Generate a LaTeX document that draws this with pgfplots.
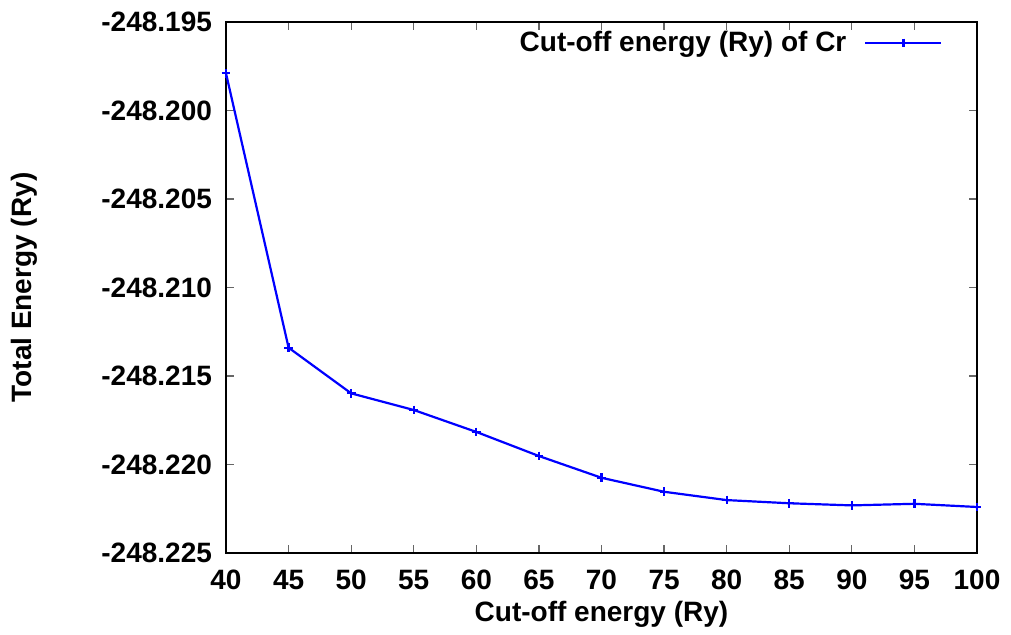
\documentclass[border=0pt]{standalone}
\usepackage{pgfplots}
\pgfplotsset{compat=1.18}
\usepackage{fontspec}
\setmainfont{Liberation Sans}
\newcommand{\lbl}{\fontsize{14}{16}\selectfont\bfseries}
\begin{document}
\begin{tikzpicture}
\useasboundingbox (0,0) rectangle (505.5pt,317pt);
\begin{axis}[
  at={(113pt,40.5pt)}, anchor=south west,
  scale only axis, width=375.5pt, height=265.5pt,
  xmin=40, xmax=100,
  ymin=-248.225, ymax=-248.195,
  y coord trafo/.code={\edef\pgfmathresult{\fpeval{(#1+248.225)*1000}}},
  y coord inv trafo/.code={\edef\pgfmathresult{\fpeval{#1/1000-248.225}}},
  xtick={40,45,...,100},
  ytick={-248.225,-248.220,-248.215,-248.210,-248.205,-248.200,-248.195},
  yticklabels={-248.225,-248.220,-248.215,-248.210,-248.205,-248.200,-248.195},
  scaled ticks=false,
  /pgf/number format/assume math mode=true,
  ticklabel style={font=\lbl},
  yticklabel style={xshift=-3.5pt},
  xticklabel style={yshift=-5pt},
  label style={font=\lbl},
  xlabel={Cut-off energy (Ry)},
  ylabel={Total Energy (Ry)},
  xlabel style={yshift=1pt},
  ylabel style={yshift=25pt},
  tick align=inside,
  xtick pos=both, ytick pos=both,
  xticklabel pos=left, yticklabel pos=left,
  major tick length=4pt,
  every tick/.style={black!60, line width=0.6pt},
  axis line style={black, line width=0.8pt},
  legend plot pos=right,
  legend cell align=right,
  legend style={draw=none, fill=none, font=\lbl, at={(rel axis cs:1,1)}, anchor=east, xshift=-14pt, yshift=-10.5pt},
  legend image code/.code={\draw[mark repeat=2,mark phase=2,#1] plot coordinates {(0pt,0pt) (19pt,0pt) (38pt,0pt)};},
]
\addplot[blue, line width=1.1pt, mark=+, mark size=2.2pt] table {
x y
40 -248.19790
45 -248.21340
50 -248.21598
55 -248.21692
60 -248.21816
65 -248.21952
70 -248.22075
75 -248.22154
80 -248.22201
85 -248.22219
90 -248.22231
95 -248.22222
100 -248.22240
};
\addlegendentry{Cut-off energy (Ry) of Cr\rule{7pt}{0pt}}
\end{axis}
\end{tikzpicture}
\end{document}
